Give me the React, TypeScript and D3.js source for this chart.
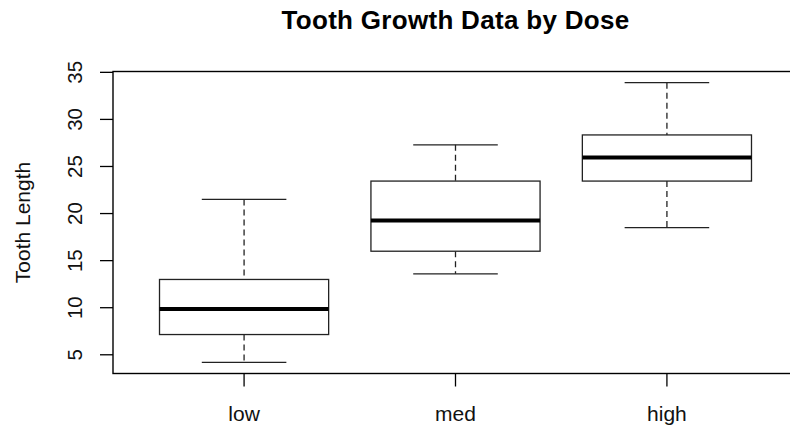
import * as d3 from "d3";

const categories = ["low", "med", "high"];
const whiskerLow = [4.2, 13.6, 18.5];
const hingeLow = [7.15, 16.0, 23.45];
const medians = [9.85, 19.25, 25.95];
const hingeHigh = [13.0, 23.45, 28.35];
const whiskerHigh = [21.5, 27.3, 33.9];
const yTicks = [5, 10, 15, 20, 25, 30, 35];

const W = 790;
const H = 428;
const plot = { left: 113, right: 798, top: 71.5, bottom: 373.5 };
const font = "'Liberation Sans', Arial, sans-serif";

export default function App() {
  // R style: 4% padding around the data range
  const yMin = d3.min(whiskerLow)!;
  const yMax = d3.max(whiskerHigh)!;
  const pad = (yMax - yMin) * 0.04;
  const y = d3
    .scaleLinear()
    .domain([yMin - pad, yMax + pad])
    .range([plot.bottom, plot.top]);

  const n = categories.length;
  const xPad = n * 0.04;
  const x = d3
    .scaleLinear()
    .domain([0.5 - xPad, n + 0.5 + xPad])
    .range([plot.left, plot.right]);

  const halfBox = x(1.4) - x(1); // boxwex 0.8
  const halfCap = halfBox / 2;

  return (
    <div style={{ position: "fixed", left: 0, top: 0 }}>
      <svg width={W} height={H} style={{ display: "block", background: "#fff" }}>
        <text
          x={(plot.left + plot.right) / 2}
          y={29}
          textAnchor="middle"
          fontFamily={font}
          fontWeight="bold"
          fontSize={26}
          letterSpacing={0.3}
        >
          Tooth Growth Data by Dose
        </text>

        {/* y axis */}
        <g>
          {yTicks.map((t) => (
            <g key={t}>
              <line x1={plot.left} x2={plot.left - 13} y1={y(t)} y2={y(t)} stroke="#000" strokeWidth={1.3} />
              <text
                transform={`translate(82,${y(t)}) rotate(-90)`}
                textAnchor="middle"
                fontFamily={font}
                fontSize={20.5}
                fill="#111"
              >
                {t}
              </text>
            </g>
          ))}
          <text
            transform={`translate(29.5,${(plot.top + plot.bottom) / 2}) rotate(-90)`}
            textAnchor="middle"
            fontFamily={font}
            fontSize={21}
            fill="#111"
          >
            Tooth Length
          </text>
        </g>

        {/* x axis */}
        <g>
          {categories.map((c, i) => (
            <g key={c}>
              <line x1={x(i + 1)} x2={x(i + 1)} y1={plot.bottom} y2={plot.bottom + 13} stroke="#000" strokeWidth={1.3} />
              <text x={x(i + 1)} y={421} textAnchor="middle" fontFamily={font} fontSize={21} fill="#111">
                {c}
              </text>
            </g>
          ))}
        </g>

        {/* boxes */}
        {categories.map((c, i) => {
          const cx = x(i + 1);
          return (
            <g key={c} stroke="#222" fill="none">
              <line x1={cx} x2={cx} y1={y(whiskerHigh[i])} y2={y(hingeHigh[i])} strokeWidth={1.3} strokeDasharray="6,4" />
              <line x1={cx} x2={cx} y1={y(hingeLow[i])} y2={y(whiskerLow[i])} strokeWidth={1.3} strokeDasharray="6,4" />
              <line x1={cx - halfCap} x2={cx + halfCap} y1={y(whiskerHigh[i])} y2={y(whiskerHigh[i])} strokeWidth={1.3} />
              <line x1={cx - halfCap} x2={cx + halfCap} y1={y(whiskerLow[i])} y2={y(whiskerLow[i])} strokeWidth={1.3} />
              <rect
                x={cx - halfBox}
                y={y(hingeHigh[i])}
                width={halfBox * 2}
                height={y(hingeLow[i]) - y(hingeHigh[i])}
                fill="#fff"
                strokeWidth={1.3}
              />
              <line x1={cx - halfBox} x2={cx + halfBox} y1={y(medians[i])} y2={y(medians[i])} stroke="#000" strokeWidth={4} />
            </g>
          );
        })}

        <rect
          x={plot.left}
          y={plot.top}
          width={plot.right - plot.left}
          height={plot.bottom - plot.top}
          fill="none"
          stroke="#000"
          strokeWidth={1.4}
        />
      </svg>
    </div>
  );
}
